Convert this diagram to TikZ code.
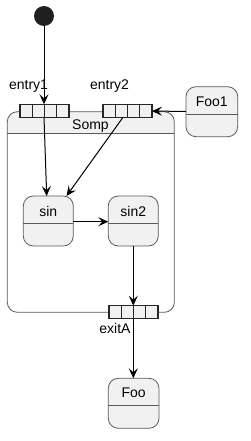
\documentclass[tikz,border=0pt]{standalone}
\usepackage{fontspec}
\setmainfont{Liberation Sans}
\usetikzlibrary{arrows.meta}
\definecolor{stfill}{HTML}{F1F1F1}
\definecolor{stline}{HTML}{5A5A5A}
\begin{document}
\begin{tikzpicture}[x=1pt,y=-1pt,
  lbl/.style={font=\fontsize{14}{16}\selectfont, inner sep=0pt, anchor=center},
  stbox/.style={draw=stline, fill=stfill, line width=0.8pt, rounded corners=10pt},
  portbox/.style={draw=black!85, fill=stfill, line width=1.2pt},
  conn/.style={draw=black, line width=1pt, -{Stealth[length=10pt,width=9pt,inset=4pt]}},
  plain/.style={draw=black, line width=1pt}]
\useasboundingbox (0,0) rectangle (251,441);
% initial
\node[circle, fill=black!88, minimum size=20pt, inner sep=0pt] (init) at (44,16) {};
% composite Somp
\fill[white, rounded corners=10pt] (7.3,111.7) rectangle (174.3,312.3);
\begin{scope}
\clip (7.3,111.7) rectangle (174.3,133.5);
\fill[stfill, rounded corners=10pt] (7.3,111.7) rectangle (174.3,160);
\end{scope}
\draw[stline, line width=0.8pt, rounded corners=10pt] (7.3,111.7) rectangle (174.3,312.3);
\draw[stline, line width=0.8pt] (7.3,133.5) -- (174.3,133.5);
\node[lbl] (somp) at (90.5,126.5) {Somp};
% simple states
\newcommand{\statebox}[4]{%
  \draw[stbox] (#1,#2) rectangle (#3,#4);
  \draw[stline, line width=0.8pt] (#1,{#2+27.3}) -- (#3,{#2+27.3});
}
\statebox{23.3}{196}{73.3}{246}
\node[lbl] (sinlbl) at (48.3,211) {sin};
\statebox{108.3}{196}{158.3}{246}
\node[lbl] (sin2lbl) at (133.3,211) {sin2};
\statebox{186}{86.7}{237.7}{136.7}
\node[lbl] (foo1lbl) at (211.8,101.5) {Foo1};
\statebox{108.3}{378.3}{159}{428.3}
\node[lbl] (foolbl) at (133.6,393) {Foo};
% named anchors
\coordinate (sinN) at (46.7,196);
\coordinate (sinN2) at (66.5,196);
\coordinate (sinE) at (73.3,221.7);
\coordinate (sin2W) at (108.3,221.7);
\coordinate (sin2S) at (133.3,246);
\coordinate (foo1W) at (186,111.5);
\coordinate (fooN) at (133.3,378.3);
% ports
\newcommand{\portat}[2]{%
  \draw[portbox] (#1,#2) rectangle ({#1+49},{#2+13});
  \foreach \i in {1,2,3} {\draw[portbox] ({#1+12.25*\i},#2) -- ({#1+12.25*\i},{#2+13});}
}
\portat{20}{104.3}
\portat{103}{104.3}
\portat{109}{305.7}
\coordinate (e1top) at (44,104.3);
\coordinate (e1bot) at (44,117.3);
\coordinate (e2E) at (152,111);
\coordinate (e2bot) at (123,117.3);
\coordinate (exTop) at (133.3,305.7);
\coordinate (exBot) at (133.3,318.7);
\node[lbl] (entry1) at (28.5,86) {entry1};
\node[lbl] (entry2) at (109.5,86) {entry2};
\node[lbl] (exitA) at (115,328.5) {exitA};
% connectors
\draw[conn] (init) -- (e1top);
\draw[conn] (e1bot) -- (sinN);
\draw[conn] (e2bot) -- (sinN2);
\draw[conn] (foo1W) -- (e2E);
\draw[conn] (sinE) -- (sin2W);
\draw[conn] (sin2S) -- (exTop);
\draw[conn] (exBot) -- (fooN);
\end{tikzpicture}
\end{document}
